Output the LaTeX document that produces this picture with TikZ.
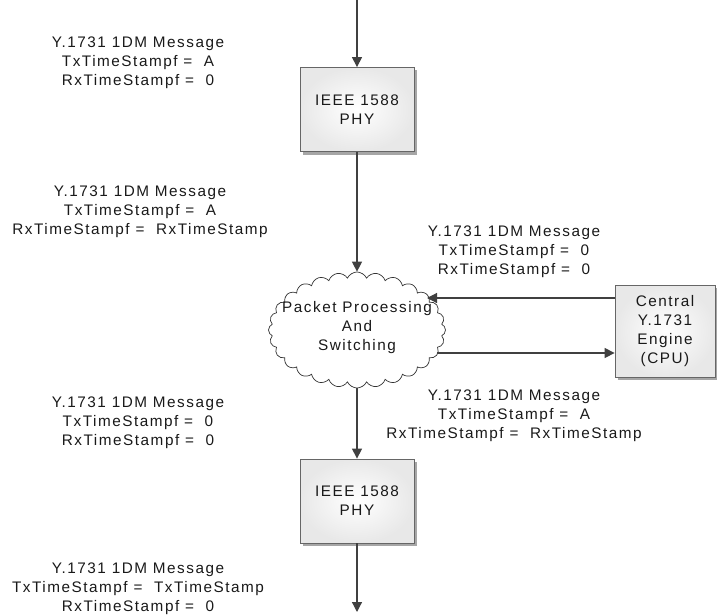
\documentclass[tikz,border=0pt]{standalone}
\usepackage{fontspec}
\setmainfont{Liberation Sans}[LetterSpace=10]
\usetikzlibrary{shapes.symbols,arrows.meta,shadows}

% value separator with the wide gap after the equals sign
\newcommand{\eqsep}{ = \ }

\begin{document}
\begin{tikzpicture}[x=1pt,y=-1pt,
  txt/.style={font=\fontsize{15.3}{19}\selectfont, align=center, text=black!90, inner sep=0pt},
  box/.style={txt, draw=black!60, line width=0.8pt, inner color=white, outer color=black!9,
    minimum width=114pt, minimum height=84pt,
    drop shadow={shadow xshift=3pt, shadow yshift=-3pt, fill=black!35, opacity=1}},
  puff/.style={cloud, cloud puffs=28, cloud puff arc=130, cloud ignores aspect,
    draw=black!80, line width=0.7pt, fill=white, inner sep=0pt},
  arr/.style={draw=black!75, line width=1.2pt, -{Triangle[length=10pt,width=10pt]}},
]
\useasboundingbox (0,0) rectangle (717,615);

% processing blocks
\node[box] (phy1) at (357,109.5) {IEEE 1588\\PHY};
\node[box] (phy2) at (357,501) {IEEE 1588\\PHY};
\node[box, minimum width=100pt, minimum height=92pt] (cpu) at (665,331)
  {Central\\Y.1731\\Engine\\(CPU)};
\node[puff, minimum width=177pt, minimum height=116pt] (cloud) at (357,330) {};
\node[txt] (cloudtxt) at (357,328) {Packet Processing\\And\\Switching};

% message contents along each path
\node[txt] (m1) at (138,63)  {Y.1731 1DM Message\\TxTimeStampf\eqsep A\\RxTimeStampf\eqsep 0};
\node[txt] (m2) at (140,212) {Y.1731 1DM Message\\TxTimeStampf\eqsep A\\RxTimeStampf\eqsep RxTimeStamp};
\node[txt] (m3) at (514,252) {Y.1731 1DM Message\\TxTimeStampf\eqsep 0\\RxTimeStampf\eqsep 0};
\node[txt] (m4) at (514,416) {Y.1731 1DM Message\\TxTimeStampf\eqsep A\\RxTimeStampf\eqsep RxTimeStamp};
\node[txt] (m5) at (138,423) {Y.1731 1DM Message\\TxTimeStampf\eqsep 0\\RxTimeStampf\eqsep 0};
\node[txt] (m6) at (138,589) {Y.1731 1DM Message\\TxTimeStampf\eqsep TxTimeStamp\\RxTimeStampf\eqsep 0};

% free ends of the connectors
\coordinate (src) at (357,0);
\coordinate (sink) at (357,612);
\coordinate (cin) at (427,298);
\coordinate (cout) at (437,353);

\draw[arr] (src) -- (phy1.north);
\draw[arr] (phy1.south) -- (cloud.north);
\draw[arr] (cloud.south) -- (phy2.north);
\draw[arr] (phy2.south) -- (sink);
\draw[arr] (cpu.west |- cin) -- (cin);
\draw[arr] (cout) -- (cpu.west |- cout);
\end{tikzpicture}
\end{document}
